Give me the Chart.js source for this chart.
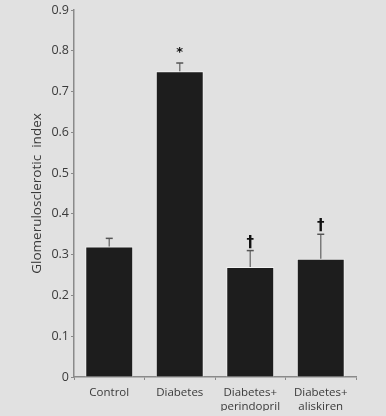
<!DOCTYPE html>
<html>
<head>
<meta charset="utf-8">
<script src="https://cdn.jsdelivr.net/npm/chart.js@4"></script>
<style>
  html, body { margin: 0; padding: 0; background: #e1e1e1; }
  #wrap { width: 386px; height: 416px; }
</style>
</head>
<body>
<div id="wrap"><canvas id="gsChart" width="386" height="416"></canvas></div>
<script>
// data
const groups = ['Control', 'Diabetes', ['Diabetes+', 'perindopril'], ['Diabetes+', 'aliskiren']];
const meanIndex = [0.32, 0.75, 0.27, 0.29];
const errorTop = [0.34, 0.77, 0.31, 0.35];
const signifMarks = ['', '*', '\u2020', '\u2020'];

// draws the upper error bars and the significance marks
const errorBars = {
  id: 'errorBars',
  afterDatasetsDraw(chart) {
    const ctx = chart.ctx;
    const y = chart.scales.y;
    const meta = chart.getDatasetMeta(0);
    ctx.save();
    meta.data.forEach((bar, i) => {
      const yTop = y.getPixelForValue(errorTop[i]);
      ctx.strokeStyle = '#7a7a7a';
      ctx.lineWidth = 1.5;
      ctx.beginPath();
      ctx.moveTo(bar.x, bar.y);
      ctx.lineTo(bar.x, yTop);
      ctx.stroke();
      ctx.strokeStyle = '#555';
      ctx.beginPath();
      ctx.moveTo(bar.x - 3.5, yTop);
      ctx.lineTo(bar.x + 3.5, yTop);
      ctx.stroke();

      const mark = signifMarks[i];
      if (mark) {
        ctx.fillStyle = '#111';
        ctx.textAlign = 'center';
        ctx.textBaseline = 'alphabetic';
        if (mark === '*') {
          ctx.font = 'bold 13px "DejaVu Sans"';
          ctx.fillText(mark, bar.x, yTop - 7);
        } else {
          ctx.font = 'bold 15px "DejaVu Sans"';
          ctx.fillText(mark, bar.x, yTop - 4);
        }
      }
    });
    ctx.restore();
  }
};

const ctx = document.getElementById('gsChart').getContext('2d');
new Chart(ctx, {
  type: 'bar',
  data: {
    labels: groups,
    datasets: [{
      data: meanIndex,
      backgroundColor: '#1d1d1d',
      borderColor: '#f2f2f2',
      borderWidth: 1,
      barPercentage: 0.68,
      categoryPercentage: 1.0
    }]
  },
  options: {
    responsive: false,
    animation: false,
    layout: { padding: { top: 10, right: 30, bottom: 5, left: 0 } },
    plugins: {
      legend: { display: false },
      tooltip: { enabled: false }
    },
    scales: {
      y: {
        min: 0,
        max: 0.9,
        afterFit: scale => { scale.width = 74; },
        ticks: {
          stepSize: 0.1,
          padding: 2,
          color: '#3a3a3a',
          font: { family: '"Open Sans"', size: 12.5 },
          callback: v => (v === 0 ? '0' : Number(v).toFixed(1))
        },
        grid: { drawOnChartArea: false, drawTicks: true, tickLength: 3, color: '#8a8a8a' },
        border: { color: '#8a8a8a', width: 1.5 },
        title: {
          display: true,
          text: 'Glomerulosclerotic  index',
          color: '#3a3a3a',
          font: { family: '"Open Sans"', size: 13.5 },
          padding: { top: 29, bottom: 0 }
        }
      },
      x: {
        afterFit: scale => { scale.height = 34; },
        ticks: {
          padding: 6,
          color: '#3a3a3a',
          font: { family: '"Open Sans"', size: 11.5 },
          maxRotation: 0
        },
        grid: { drawOnChartArea: false, drawTicks: true, tickLength: 3, color: '#8a8a8a', offset: true },
        border: { color: '#8a8a8a', width: 1.5 }
      }
    }
  },
  plugins: [errorBars]
});
</script>
</body>
</html>
